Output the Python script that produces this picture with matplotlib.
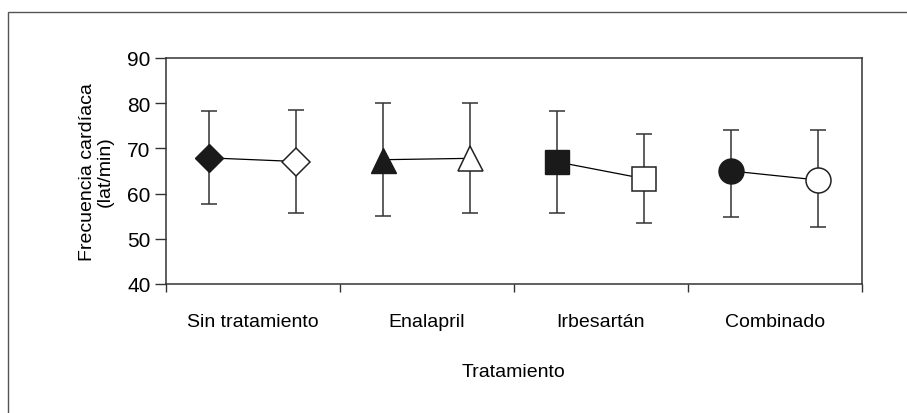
import numpy as np
import matplotlib.pyplot as plt
from matplotlib.patches import Rectangle

plt.rcParams['font.family'] = ['Liberation Sans Narrow', 'Liberation Sans', 'DejaVu Sans']

# datos
tratamientos = ['Sin tratamiento', 'Enalapril', 'Irbesartán', 'Combinado']
marcadores = ['D', '^', 's', 'o']
tam_marcador = [14, 18, 17, 18]
media_antes = [67.9, 67.5, 67.0, 65.0]
sup_antes = [78.3, 80.0, 78.3, 74.1]
inf_antes = [57.7, 55.0, 55.7, 54.8]
media_despues = [67.1, 67.8, 63.3, 63.0]
sup_despues = [78.6, 80.0, 73.2, 74.1]
inf_despues = [55.7, 55.7, 53.4, 52.7]

fig = plt.figure(figsize=(9.07, 4.14), dpi=100)
ax = fig.add_axes([0.183, 0.3116, 0.767, 0.5459])

# marco exterior
fig.add_artist(Rectangle((8 / 907, -0.1), 1.2, 1.1 - 13 / 414, transform=fig.transFigure,
                         fill=False, edgecolor='#555555', linewidth=1.0))

gris = '#333333'
for i in range(len(tratamientos)):
    x0 = i + 0.25
    x1 = i + 0.75
    ax.plot([x0, x1], [media_antes[i], media_despues[i]], color='black', linewidth=0.9, zorder=2)
    ax.errorbar(x0, media_antes[i],
                yerr=[[media_antes[i] - inf_antes[i]], [sup_antes[i] - media_antes[i]]],
                fmt='none', ecolor=gris, elinewidth=1.1, capsize=6, capthick=1.1, zorder=1)
    ax.errorbar(x1, media_despues[i],
                yerr=[[media_despues[i] - inf_despues[i]], [sup_despues[i] - media_despues[i]]],
                fmt='none', ecolor=gris, elinewidth=1.1, capsize=6, capthick=1.1, zorder=1)
    ax.plot(x0, media_antes[i], marker=marcadores[i], markersize=tam_marcador[i],
            markerfacecolor='#1a1a1a', markeredgecolor='#1a1a1a', markeredgewidth=1.0,
            linestyle='none', zorder=3)
    ax.plot(x1, media_despues[i], marker=marcadores[i], markersize=tam_marcador[i],
            markerfacecolor='white', markeredgecolor='#222222', markeredgewidth=1.1,
            linestyle='none', zorder=3)

ax.set_xlim(0, 4)
ax.set_ylim(40, 90)
ax.set_yticks([40, 50, 60, 70, 80, 90])
ax.set_xticks([0, 1, 2, 3, 4])
ax.set_xticklabels([])
ax.set_xticks([0.5, 1.5, 2.5, 3.5], minor=True)
ax.set_xticklabels(tratamientos, minor=True)
ax.tick_params(axis='x', which='minor', length=0, pad=21, labelsize=14)
ax.tick_params(axis='x', which='major', length=6, width=1.0, color=gris)
ax.tick_params(axis='y', length=8, width=1.0, color=gris, labelsize=15, pad=3)
for s in ax.spines.values():
    s.set_color(gris)
    s.set_linewidth(1.1)

ax.set_ylabel('Frecuencia cardíaca\n(lat/min)', fontsize=14, linespacing=1.0, labelpad=10)
ax.set_xlabel('Tratamiento', fontsize=14, labelpad=24)

fig.savefig('out.png', dpi=100)
